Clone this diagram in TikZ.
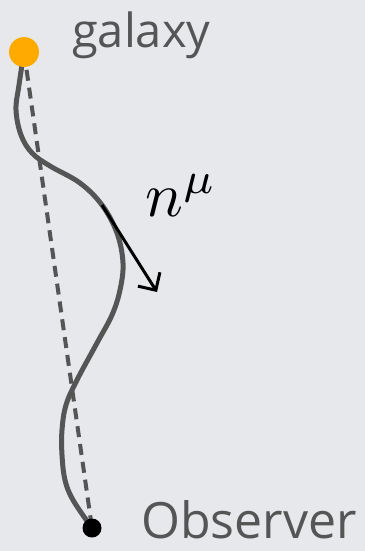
\documentclass[tikz,border=0pt]{standalone}
\usepackage{fontspec}
\setmainfont{Open Sans}
\usetikzlibrary{arrows.meta}
\definecolor{Slide}{HTML}{E6E8EC}
\definecolor{Ink}{HTML}{555555}
\definecolor{Amber}{HTML}{FFAA00}

\begin{document}
\begin{tikzpicture}[x=1pt,y=-1pt,
  slidetext/.style={text=Ink,font=\fontsize{#1}{#1}\selectfont,inner sep=0pt,anchor=base west},
  blob/.style={circle,inner sep=0pt,minimum size=#1}]
\fill[Slide] (0,0) rectangle (365,551);
\useasboundingbox (0,0) rectangle (365,551);
\coordinate (galaxy) at (24,52);
\coordinate (observer) at (92,528);
\draw[Ink,line width=4pt,dash pattern=on 11pt off 7pt] (galaxy) -- (observer);
\draw[Ink,line width=5pt] plot[smooth,tension=0.6] coordinates {(galaxy) (19,85) (16,110) (21,135) (32,153) (50,166) (80,183) (102,205) (117,233) (123,263) (120,290) (112,315) (97,343) (77,380) (66,405) (62,430) (62,455) (65,480) (73,500) (observer)};
\coordinate (tangent) at (102,205);
\coordinate (tip) at (157,292);
\draw[line width=3pt,-{Straight Barb[length=13pt,width=26pt]}] (tangent) -- (tip);
\node[anchor=base west,scale=6.3,inner sep=0pt] (nmu) at (144,216) {$n^\mu$};
\node[blob=30pt,fill=Amber] (gdot) at (galaxy) {};
\node[blob=19pt,fill=black] (odot) at (observer) {};
\node[slidetext=47] (gname) at (72,48) {galaxy};
\node[slidetext=50] (oname) at (141,538) {Observer};
\end{tikzpicture}
\end{document}
